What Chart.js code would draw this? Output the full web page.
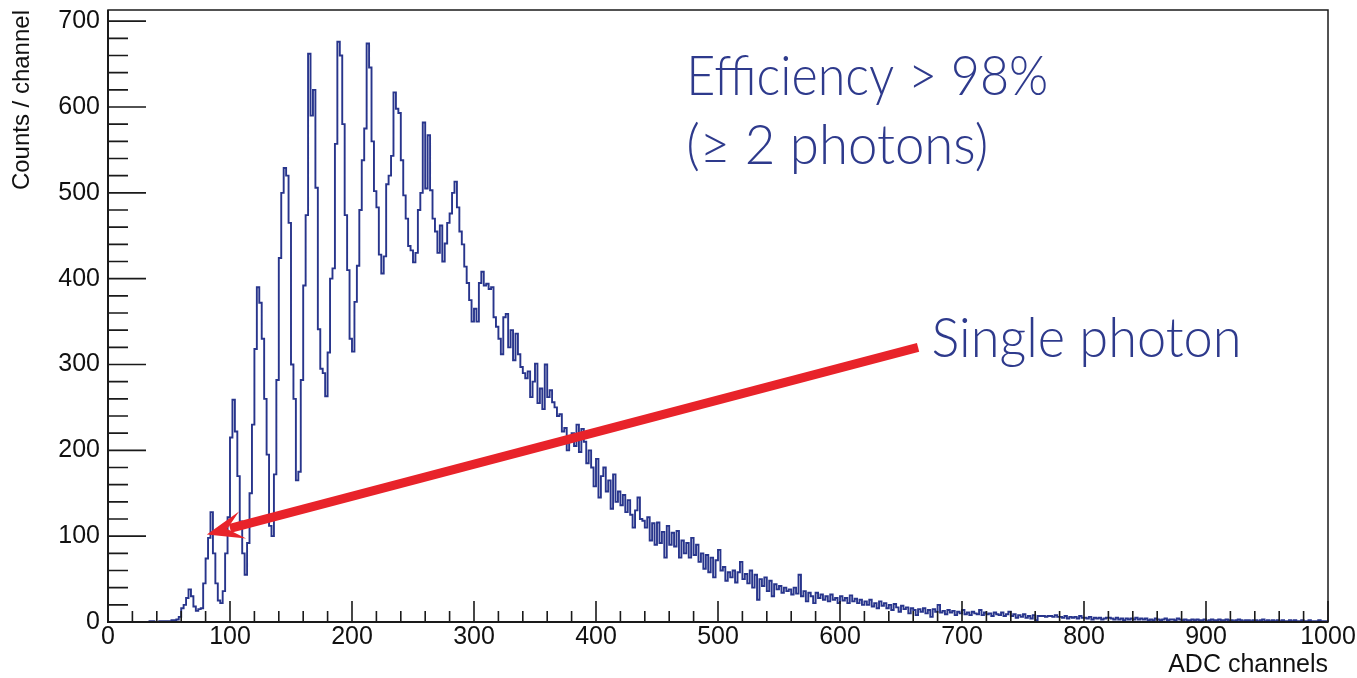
<!DOCTYPE html>
<html>
<head>
<meta charset="utf-8">
<title>ADC spectrum</title>
<script src="https://cdn.jsdelivr.net/npm/chart.js@4.4.1/dist/chart.umd.min.js"></script>
<style>
  html, body { margin: 0; padding: 0; background: #fff; }
  canvas { display: block; }
</style>
</head>
<body>
<canvas id="spectrum" width="1357" height="678"></canvas>
<script>
// ADC spectrum, 2-channel bins starting at channel 0
const binWidth = 2;
const xRange = [0, 1000];
const yRange = [0, 713];

// channels 0 - 398 (photo-electron peaks)
const countsPeaks = [
  0, 0, 0, 0, 0, 0, 0, 0, 0, 0,
  0, 0, 0, 0, 0, 0, 0, 1, 1, 0,
  0, 1, 1, 1, 1, 1, 2, 2, 3, 6,
  16, 20, 28, 38, 30, 18, 13, 15, 16, 45,
  74, 98, 128, 80, 45, 25, 22, 36, 80, 122,
  215, 259, 222, 170, 117, 80, 55, 92, 150, 230,
  318, 390, 372, 330, 260, 195, 112, 100, 172, 282,
  424, 500, 529, 520, 465, 300, 260, 165, 175, 282,
  392, 474, 662, 590, 620, 506, 341, 295, 290, 263,
  314, 400, 412, 557, 676, 660, 580, 474, 410, 330,
  315, 373, 415, 480, 538, 575, 674, 646, 560, 502,
  483, 428, 406, 426, 510, 520, 543, 617, 598, 593,
  538, 497, 470, 438, 433, 419, 430, 480, 500, 582,
  505, 567, 503, 470, 455, 430, 462, 420, 441, 465,
  476, 500, 513, 483, 455, 440, 414, 395, 375, 350,
  365, 350, 395, 408, 392, 394, 388, 390, 355, 344,
  330, 312, 355, 359, 320, 340, 305, 336, 312, 297,
  290, 284, 292, 262, 280, 301, 255, 272, 248, 300,
  262, 270, 256, 250, 240, 242, 222, 226, 200, 215,
  220, 205, 230, 198, 225, 210, 185, 200, 180, 158
];

// channels 400 - 998 (tail)
const countsTail = [
  190, 145, 170, 180, 152, 165, 132, 172, 140, 152,
  136, 148, 128, 142, 125, 110, 130, 145, 120, 118,
  110, 122, 95, 115, 90, 116, 92, 105, 75, 112,
  90, 104, 88, 106, 75, 95, 80, 92, 75, 98,
  78, 90, 70, 80, 62, 78, 58, 75, 52, 72,
  84, 60, 64, 48, 58, 52, 60, 46, 58, 70,
  50, 56, 45, 60, 40, 55, 26, 50, 42, 52,
  36, 48, 30, 44, 38, 42, 34, 40, 36, 38,
  32, 40, 33, 55, 30, 36, 24, 34, 30, 22,
  34, 28, 32, 26, 30, 24, 32, 26, 28, 22,
  30, 25, 28, 22, 31, 24, 27, 22, 26, 20,
  24, 20, 26, 18, 22, 16, 24, 19, 22, 16,
  20, 14, 21, 17, 12, 19, 15, 17, 10, 16,
  14, 8, 15, 12, 16, 10, 14, 6, 15, 12,
  20, 11, 13, 9, 14, 11, 13, 8, 12, 10,
  14, 9, 11, 8, 12, 10, 9, 14, 8, 11,
  9, 10, 7, 11, 9, 8, 11, 7, 9, 12,
  7, 9, 5, 8, 6, 9, 5, 7, 4, 8,
  2, 7, 7, 7, 6, 7, 7, 6, 8, 6,
  6, 5, 7, 4, 6, 5, 6, 4, 7, 5,
  5, 4, 6, 3, 5, 4, 5, 3, 4, 5,
  5, 4, 3, 5, 3, 4, 2, 4, 3, 4,
  3, 5, 3, 4, 3, 4, 2, 3, 2, 4,
  3, 2, 3, 4, 2, 3, 3, 2, 4, 3,
  2, 3, 2, 2, 3, 2, 3, 2, 2, 3,
  1, 2, 3, 2, 2, 3, 2, 2, 3, 2,
  2, 1, 2, 3, 2, 1, 2, 2, 1, 2,
  2, 1, 2, 3, 1, 2, 1, 2, 1, 2,
  1, 2, 1, 1, 2, 1, 2, 1, 1, 2,
  1, 1, 2, 1, 1, 1, 2, 1, 1, 1
];

// annotation text and arrow (arrow ends in axis units)
const noteLines = ['Efficiency > 98%', '(\u2265 2 photons)'];
const noteAt = [474, 614, 534];       // x, baseline of line 1, baseline of line 2
const arrowLabel = 'Single photon';
const arrowLabelAt = [675, 309];
const arrowFrom = [664, 320];
const arrowTo = [81, 102];

const xTitle = 'ADC channels';
const yTitle = 'Counts / channel';

const lineBlue = '#28358c';
const textBlue = '#2e3a8c';
const arrowRed = '#e8232a';
const axisInk = '#1a1a1a';
const tickFont = { family: "'Liberation Sans', Arial, sans-serif", size: 25 };

// histogram as step line: one point per bin low edge plus the upper edge
const counts = countsPeaks.concat(countsTail);
const points = counts.map((c, i) => ({ x: xRange[0] + i * binWidth, y: c }));
points.push({ x: xRange[0] + counts.length * binWidth, y: counts[counts.length - 1] });

// ROOT-style frame with inward ticks
const frameTicks = {
  id: 'frameTicks',
  afterDatasetsDraw(chart) {
    const { ctx, chartArea: a, scales: { x, y } } = chart;
    ctx.save();
    ctx.strokeStyle = axisInk;
    ctx.lineWidth = 1.6;
    ctx.beginPath();
    for (let v = xRange[0]; v <= xRange[1]; v += 20) {
      const px = x.getPixelForValue(v);
      const len = v % 100 === 0 ? 21 : 11;
      ctx.moveTo(px, a.bottom);
      ctx.lineTo(px, a.bottom - len);
    }
    for (let v = 0; v <= 700; v += 20) {
      const py = y.getPixelForValue(v);
      const len = v % 100 === 0 ? 38 : 20;
      ctx.moveTo(a.left, py);
      ctx.lineTo(a.left + len, py);
    }
    ctx.stroke();
    ctx.lineWidth = 1.5;
    ctx.strokeRect(a.left, a.top, a.right - a.left, a.bottom - a.top);
    ctx.lineWidth = 2;
    ctx.beginPath();
    ctx.moveTo(a.left, a.top);
    ctx.lineTo(a.left, a.bottom);
    ctx.lineTo(a.right, a.bottom);
    ctx.stroke();
    ctx.restore();
  }
};

const notes = {
  id: 'notes',
  afterDraw(chart) {
    const { ctx, scales: { x, y } } = chart;
    ctx.save();

    // arrow
    const tx = x.getPixelForValue(arrowFrom[0]), ty = y.getPixelForValue(arrowFrom[1]);
    const hx = x.getPixelForValue(arrowTo[0]), hy = y.getPixelForValue(arrowTo[1]);
    const ang = Math.atan2(ty - hy, tx - hx);
    const ux = Math.cos(ang), uy = Math.sin(ang);
    const nx = -uy, ny = ux;
    ctx.strokeStyle = arrowRed;
    ctx.fillStyle = arrowRed;
    ctx.lineWidth = 9;
    ctx.lineCap = 'butt';
    ctx.beginPath();
    ctx.moveTo(tx, ty);
    ctx.lineTo(hx + ux * 24, hy + uy * 24);
    ctx.stroke();
    ctx.beginPath();
    ctx.moveTo(hx, hy);
    ctx.lineTo(hx + ux * 37 + nx * 14, hy + uy * 37 + ny * 14);
    ctx.lineTo(hx + ux * 21, hy + uy * 21);
    ctx.lineTo(hx + ux * 37 - nx * 14, hy + uy * 37 - ny * 14);
    ctx.closePath();
    ctx.fill();

    // labels
    ctx.fillStyle = textBlue;
    ctx.font = "300 56px Lato, 'Open Sans', sans-serif";
    ctx.textAlign = 'left';
    ctx.textBaseline = 'alphabetic';
    const nx0 = x.getPixelForValue(noteAt[0]);
    ctx.fillText(noteLines[0], nx0, y.getPixelForValue(noteAt[1]), 362);
    ctx.fillText(noteLines[1], nx0, y.getPixelForValue(noteAt[2]), 302);
    ctx.fillText(arrowLabel, x.getPixelForValue(arrowLabelAt[0]), y.getPixelForValue(arrowLabelAt[1]), 310);
    ctx.restore();
  }
};

new Chart(document.getElementById('spectrum'), {
  type: 'line',
  data: {
    datasets: [{
      data: points,
      stepped: 'before',
      borderColor: lineBlue,
      borderWidth: 1.9,
      pointRadius: 0,
      fill: false
    }]
  },
  options: {
    responsive: false,
    animation: false,
    events: [],
    layout: { padding: { top: 10, right: 29, left: 0, bottom: 0 } },
    plugins: { legend: { display: false }, tooltip: { enabled: false } },
    scales: {
      x: {
        type: 'linear',
        min: xRange[0],
        max: xRange[1],
        grid: { display: false, drawTicks: false },
        border: { display: false },
        ticks: {
          stepSize: 100, autoSkip: false, maxRotation: 0, padding: 0,
          color: '#111', font: tickFont,
          callback: v => String(v)
        },
        title: {
          display: true, text: xTitle, align: 'end', color: '#111',
          font: { family: tickFont.family, size: 25, lineHeight: 1 },
          padding: 0
        },
        afterFit(scale) {
          scale.height = 56;
          scale.paddingLeft = 0;
          scale.paddingRight = 0;
        }
      },
      y: {
        type: 'linear',
        min: yRange[0],
        max: yRange[1],
        grid: { display: false, drawTicks: false },
        border: { display: false },
        ticks: {
          stepSize: 100, includeBounds: false, autoSkip: false, padding: 8,
          color: '#111', font: tickFont,
          callback: v => String(v)
        },
        title: {
          display: true, text: yTitle, align: 'end', color: '#111',
          font: { family: tickFont.family, size: 24 },
          padding: { top: 8, bottom: 0 }
        },
        afterFit(scale) {
          scale.width = 108;
          scale.paddingTop = 0;
          scale.paddingBottom = 0;
        }
      }
    }
  },
  plugins: [frameTicks, notes]
});
</script>
</body>
</html>
